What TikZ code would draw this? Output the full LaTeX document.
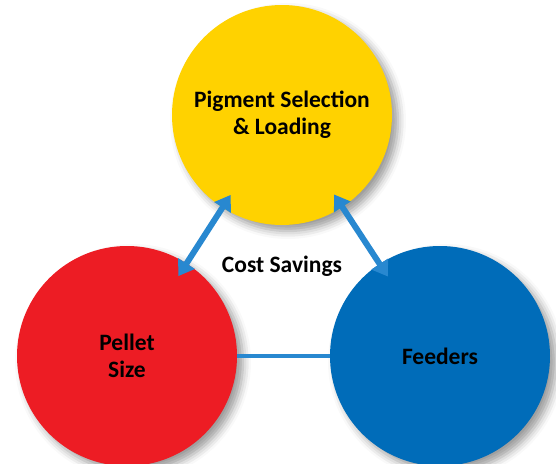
\documentclass[tikz,border=0pt]{standalone}
\usepackage{fontspec}
\setmainfont{Carlito}
\usetikzlibrary{positioning,arrows.meta,shadows.blur}
\definecolor{pigyellow}{RGB}{255,210,0}
\definecolor{pelletred}{RGB}{237,28,36}
\definecolor{feedblue}{RGB}{0,108,185}
\definecolor{linkblue}{RGB}{40,136,208}
\tikzset{
    bubble/.style = {
        shape=circle,
        minimum size=220pt,
        inner sep=0pt,
        outer sep=0pt,
        align=center,
        font=\fontsize{23.5}{27}\selectfont\bfseries,
        blur shadow={shadow xshift=6pt, shadow yshift=-6pt,
            shadow blur radius=8pt, shadow opacity=40}
    },
    label/.style = {
        font=\fontsize{23.5}{27}\selectfont\bfseries
    },
    link/.style = {
        draw=linkblue,
        line width=6pt,
        {Triangle[length=15pt,width=19pt]}-{Triangle[length=15pt,width=19pt]},
        shorten <=-15pt,
        shorten >=-15pt
    },
    bar/.style = {
        draw=linkblue,
        line width=3.5pt
    },
}
\begin{document}
\begin{tikzpicture}[x=1pt,y=-1pt]
    \useasboundingbox (0,0) rectangle (556,463);
    \node[bubble, fill=pigyellow] (pigment) at (282,115) {Pigment Selection\\\& Loading};
    \node[bubble, fill=pelletred] (pellet) at (127,356) {Pellet\\Size};
    \node[bubble, fill=feedblue] (feeders) at (440,356) {Feeders};
    \node[label] (savings) at (282,266) {Cost Savings};

    \path[link] (pellet) -- (pigment);
    \path[link] (feeders) -- (pigment);
    \path[bar] (pellet) -- (feeders);
\end{tikzpicture}
\end{document}
